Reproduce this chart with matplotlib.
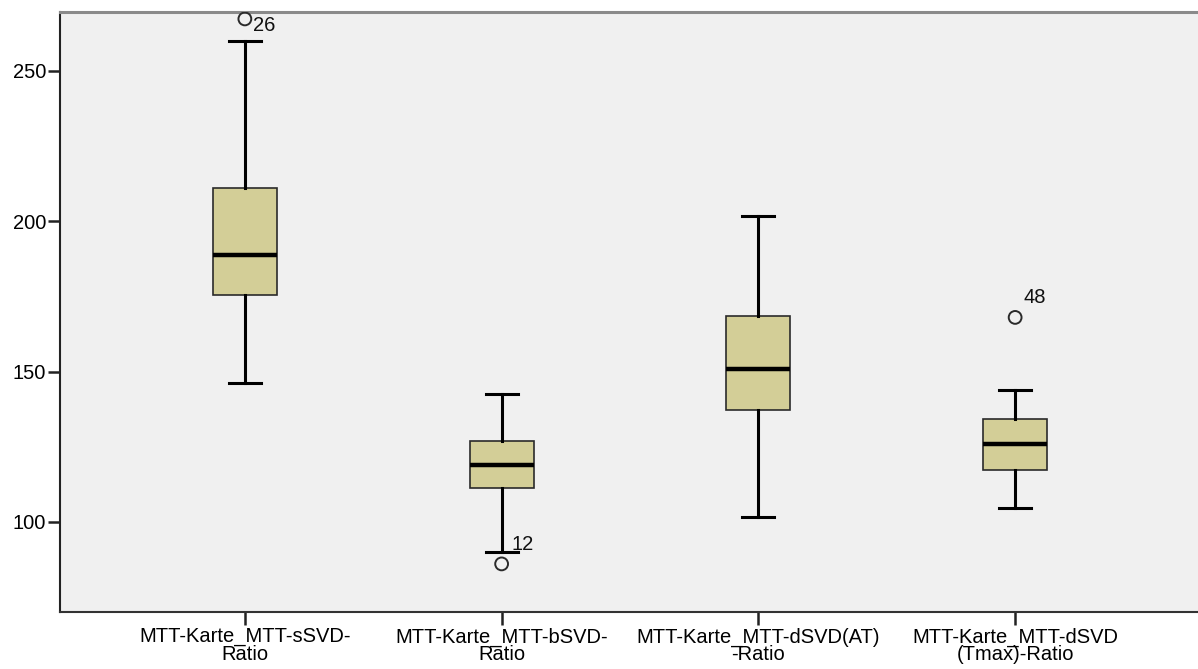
import matplotlib
matplotlib.use("Agg")
import matplotlib.pyplot as plt

plt.rcParams['font.family'] = ['Liberation Sans', 'DejaVu Sans']

categories = ["MTT-Karte_MTT-sSVD-\nRatio",
              "MTT-Karte_MTT-bSVD-\nRatio",
              "MTT-Karte_MTT-dSVD(AT)\n-Ratio",
              "MTT-Karte_MTT-dSVD\n(Tmax)-Ratio"]

# five-number summaries: lower whisker, Q1, median, Q3, upper whisker
whisker_low = [146.2, 90.0, 101.5, 104.7]
q1 = [175.5, 111.3, 137.3, 117.3]
median = [188.8, 119.0, 150.9, 126.0]
q3 = [211.1, 127.0, 168.5, 134.3]
whisker_high = [259.8, 142.6, 201.8, 144.0]

# outliers: (category index, value, case id)
outlier_idx = [0, 1, 3]
outlier_val = [267.3, 86.0, 168.0]
outlier_case = ["26", "12", "48"]

yticks = [100, 150, 200, 250]

fig = plt.figure(figsize=(11.98, 6.69), dpi=100)
ax = fig.add_axes([60 / 1198, 1 - 612 / 669, 1140 / 1198, 600 / 669])
ax.set_facecolor('#f0f0f0')

stats = []
for i in range(len(categories)):
    stats.append(dict(whislo=whisker_low[i], q1=q1[i], med=median[i],
                      q3=q3[i], whishi=whisker_high[i], fliers=[]))

ax.bxp(stats, positions=list(range(len(categories))), widths=0.25,
       patch_artist=True, showfliers=False,
       boxprops=dict(facecolor='#d3ce97', edgecolor='#2a2a2a', linewidth=1.2),
       medianprops=dict(color='black', linewidth=3.2),
       whiskerprops=dict(color='black', linewidth=2.2),
       capprops=dict(color='black', linewidth=2.2),
       capwidths=0.125)

ax.scatter(outlier_idx, outlier_val, s=85, facecolors='none',
           edgecolors='#2a2a2a', linewidths=1.4, zorder=5)

# case-number labels beside the outliers (offsets in pixels)
label_offsets = {"26": (8, -7), "12": (10, 19), "48": (8, 20)}
for i, v, c in zip(outlier_idx, outlier_val, outlier_case):
    dx, dy = label_offsets[c]
    ax.annotate(c, (i, v), xytext=(dx, dy), textcoords='offset pixels',
                fontsize=14.5, ha='left', va='center', color='#111111')

ax.set_xlim(-0.72, 3.72)
ax.set_ylim(70, 269.6)
ax.set_yticks(yticks)
ax.set_xticks(range(len(categories)))
ax.set_xticklabels(categories, fontsize=14.5, linespacing=0.92)
ax.tick_params(axis='y', labelsize=14.5, length=9, width=1.8, color='#222222', pad=1)
ax.tick_params(axis='x', length=9, width=1.8, color='#222222', pad=2)

ax.spines['right'].set_visible(False)
ax.spines['left'].set_color('#222222')
ax.spines['left'].set_linewidth(1.5)
ax.spines['bottom'].set_color('#333333')
ax.spines['bottom'].set_linewidth(1.5)
ax.spines['top'].set_color('#8a8a8a')
ax.spines['top'].set_linewidth(2.2)

fig.savefig("out.png", dpi=100, facecolor='white')
